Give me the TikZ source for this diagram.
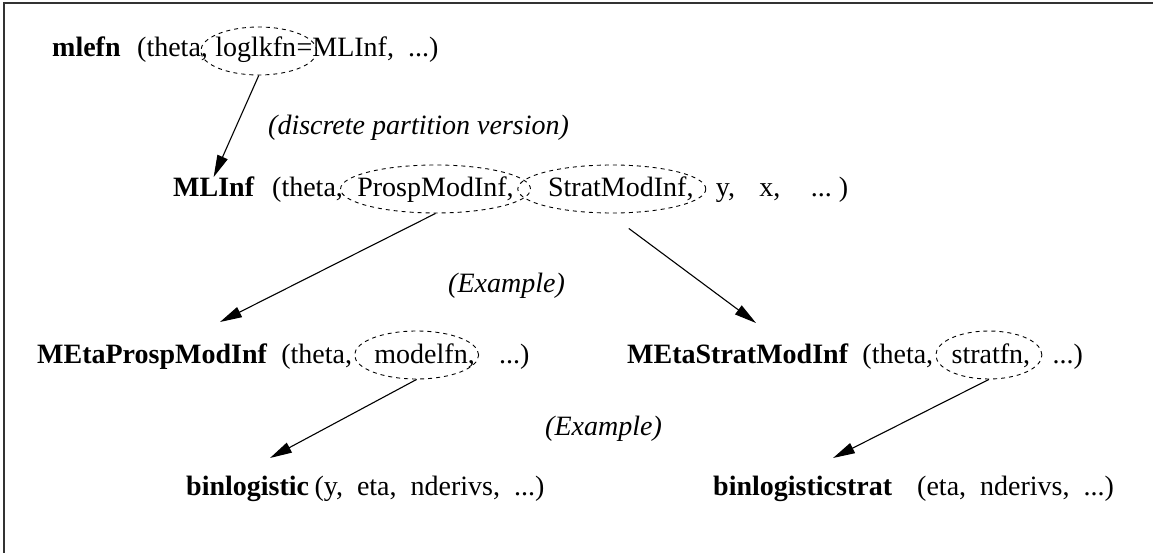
\documentclass[tikz,border=0pt]{standalone}
\usepackage{fontspec}
\setmainfont{Liberation Serif}
\usetikzlibrary{shapes.geometric,arrows.meta,calc}
\begin{document}
\begin{tikzpicture}[x=1pt,y=-1pt,
  txt/.style={inner sep=0pt,anchor=base west,font=\fontsize{28}{34}\selectfont},
  fn/.style={txt,font=\fontsize{28}{34}\selectfont\bfseries},
  note/.style={txt,font=\fontsize{28}{34}\selectfont\itshape},
  argring/.style={draw,ellipse,inner sep=0pt,line width=0.9pt,dash pattern=on 4pt off 4pt},
  link/.style={-{Triangle[length=22pt,width=11pt]},line width=1.1pt},
  frameline/.style={line width=1.8pt,black!80}]
\useasboundingbox (0,0) rectangle (1153,553);

% frame
\coordinate (fr1) at (4,553);
\coordinate (fr2) at (4,3);
\coordinate (fr3) at (1153,3);
\draw[frameline] (fr1) -- (fr2) -- (fr3);

% top level call
\node[fn]  (mlefn) at (52,57) {mlefn};
\node[txt] (a1a) at (137,57) {(theta,};
\node[txt] (a1b) at ([xshift=7pt]a1a.base east) {loglkfn};
\node[txt] (a1c) at (a1b.base east) {=MLInf,\hspace{14pt}...)};
\node[argring,minimum width=116pt,minimum height=48pt] (e1) at ($(a1b.base)+(3,-6)$) {};

\node[note] (n1) at (268,135) {(discrete partition version)};

% likelihood driver
\node[fn]  (mlinf) at (173,197) {MLInf};
\node[txt] (a2a) at (272,197) {(theta,};
\node[txt] (a2b) at ([xshift=14pt]a2a.base east) {ProspModInf,};
\node[txt] (a2c) at ([xshift=34pt]a2b.base east) {StratModInf,};
\node[txt] (a2d) at ([xshift=22pt]a2c.base east) {y,};
\node[txt] (a2e) at ([xshift=24pt]a2d.base east) {x,};
\node[txt] (a2f) at ([xshift=30pt]a2e.base east) {...\hspace{7pt})};
\node[argring,minimum width=190pt,minimum height=48pt] (e2) at ($(a2b.base)+(0,-8)$) {};
\node[argring,minimum width=188pt,minimum height=48pt] (e3) at ($(a2c.base)+(-9,-8)$) {};

\node[note] (n2) at (448,292) {(Example)};

% model components
\node[fn]  (mepm) at (37,363) {MEtaProspModInf};
\node[txt] (a3a) at ([xshift=14pt]mepm.base east) {(theta,};
\node[txt] (a3b) at ([xshift=22pt]a3a.base east) {modelfn,};
\node[txt] (a3c) at ([xshift=24pt]a3b.base east) {...)};
\node[argring,minimum width=124pt,minimum height=48pt] (e4) at ($(a3b.base)+(-8,-8)$) {};

\node[fn]  (mesm) at (627,363) {MEtaStratModInf};
\node[txt] (a4a) at ([xshift=14pt]mesm.base east) {(theta,};
\node[txt] (a4b) at ([xshift=18pt]a4a.base east) {stratfn,};
\node[txt] (a4c) at ([xshift=22pt]a4b.base east) {...)};
\node[argring,minimum width=106pt,minimum height=48pt] (e5) at ($(a4b.base)+(-2,-8)$) {};

\node[note] (n3) at (545,435) {(Example)};

% concrete model functions
\node[fn]  (bl)  at (186,495) {binlogistic};
\node[txt] (a5)  at ([xshift=5pt]bl.base east) {(y,\hspace{14pt}eta,\hspace{14pt}nderivs,\hspace{14pt}...)};
\node[fn]  (bls) at (713,495) {binlogisticstrat};
\node[txt] (a6)  at (917,495) {(eta,\hspace{14pt}nderivs,\hspace{14pt}...)};

% arrow tips
\coordinate (t2) at (220,322);
\coordinate (t3) at (756,323);
\coordinate (t4) at (270,458);
\coordinate (t5) at (833,458);

\draw[link] (e1.south) -- (mlinf.north);
\draw[link] (e2.south) -- (t2);
\draw[link] ([xshift=17pt,yshift=-15pt]e3.south) -- (t3);
\draw[link] (e4.south) -- (t4);
\draw[link] (e5.south) -- (t5);
\end{tikzpicture}
\end{document}
